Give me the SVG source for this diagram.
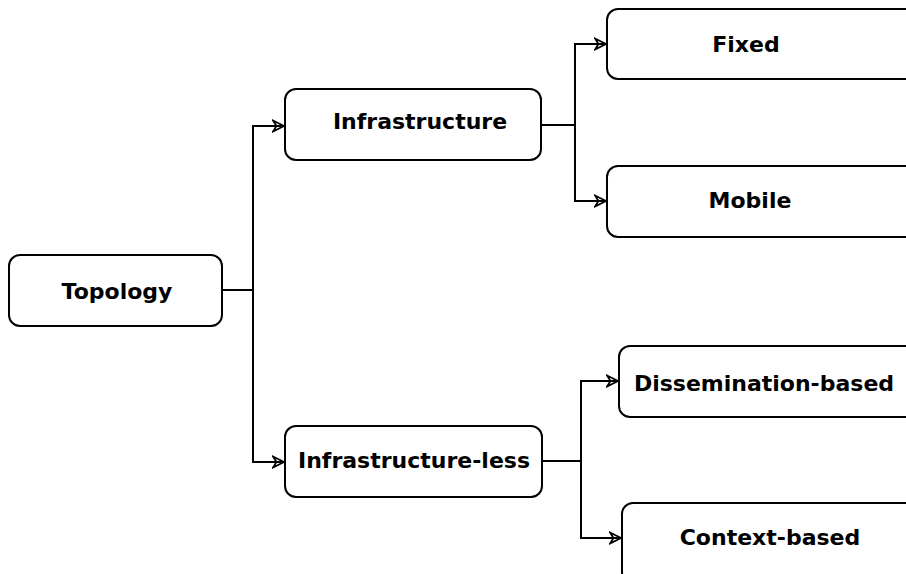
<svg xmlns="http://www.w3.org/2000/svg" width="906" height="574" viewBox="0 0 906 574">
<defs>
<style>
.box{fill:#fff;stroke:#000;stroke-width:2}
.lbl{font-family:"DejaVu Sans",sans-serif;font-weight:bold;font-size:22px;text-anchor:middle;fill:#000}
.ln{fill:none;stroke:#000;stroke-width:2}
</style>
<marker id="arr" viewBox="0 0 14 14" refX="12.5" refY="7" markerWidth="14" markerHeight="14" markerUnits="userSpaceOnUse" orient="auto">
<path d="M1.5,1.5 L12.5,7 L1.5,12.5 L5,7 Z" fill="none" stroke="#000" stroke-width="1.8" stroke-linejoin="miter"/>
</marker>
</defs>
<rect width="906" height="574" fill="#fff"/>
<g id="connectors">
<path class="ln" d="M222,290 H253 V126 H284" marker-end="url(#arr)"/>
<path class="ln" d="M253,290 V462 H284" marker-end="url(#arr)"/>
<path class="ln" d="M541,125 H575 V44 H606" marker-end="url(#arr)"/>
<path class="ln" d="M575,125 V201 H606" marker-end="url(#arr)"/>
<path class="ln" d="M542,461 H581 V381 H618" marker-end="url(#arr)"/>
<path class="ln" d="M581,461 V538 H621" marker-end="url(#arr)"/>
</g>
<g id="topology"><rect class="box" x="9" y="255" width="213" height="71" rx="11"/><text class="lbl" x="117" y="299">Topology</text></g>
<g id="infrastructure"><rect class="box" x="285" y="89" width="256" height="71" rx="11"/><text class="lbl" x="420" y="129">Infrastructure</text></g>
<g id="infrastructure-less"><rect class="box" x="285" y="426" width="257" height="71" rx="11"/><text class="lbl" x="414" y="468">Infrastructure-less</text></g>
<g id="fixed"><rect class="box" x="607" y="9" width="310" height="70" rx="11"/><text class="lbl" x="746" y="52">Fixed</text></g>
<g id="mobile"><rect class="box" x="607" y="166" width="310" height="71" rx="11"/><text class="lbl" x="750" y="208">Mobile</text></g>
<g id="dissemination"><rect class="box" x="619" y="346" width="300" height="71" rx="11"/><text class="lbl" x="764" y="391">Dissemination-based</text></g>
<g id="context"><rect class="box" x="622" y="503" width="300" height="80" rx="11"/><text class="lbl" x="770" y="545">Context-based</text></g>
</svg>
